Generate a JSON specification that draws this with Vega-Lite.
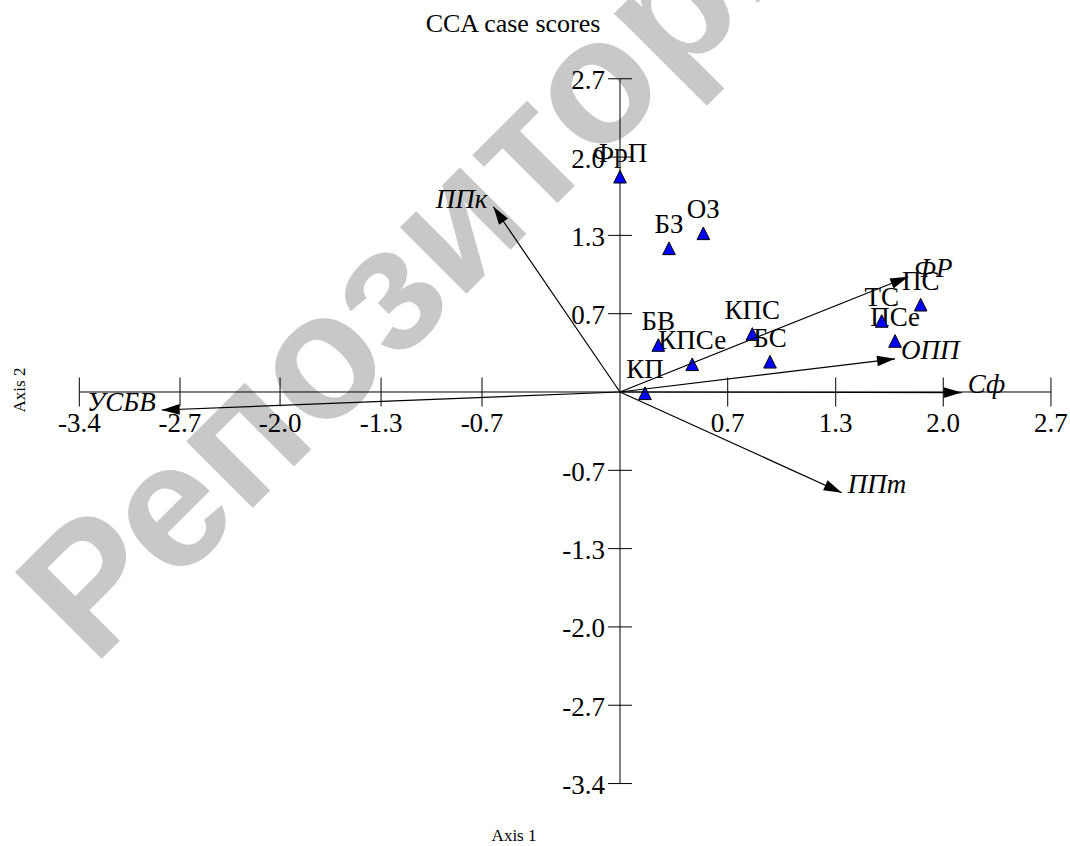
{
  "$schema": "https://vega.github.io/schema/vega-lite/v6.json",
  "autosize": "none",
  "width": 1070,
  "height": 846,
  "padding": 0,
  "background": "white",
  "config": {"view": {"stroke": null}},
  "title": {"text": "CCA case scores", "font": "Liberation Serif, Times New Roman, serif", "fontSize": 26, "fontWeight": "normal", "color": "black", "frame": "group", "anchor": "middle", "baseline": "alphabetic", "offset": -25, "dy": 33, "dx": -22},
  "datasets": {
    "sites": [
      {"name": "ФрП", "x": 0.0, "y": 1.864},
      {"name": "БЗ", "x": 0.308, "y": 1.244},
      {"name": "ОЗ", "x": 0.524, "y": 1.374},
      {"name": "БВ", "x": 0.241, "y": 0.407},
      {"name": "КПСе", "x": 0.454, "y": 0.240},
      {"name": "КП", "x": 0.157, "y": -0.011},
      {"name": "КПС", "x": 0.832, "y": 0.502},
      {"name": "БС", "x": 0.943, "y": 0.262},
      {"name": "ТС", "x": 1.645, "y": 0.615},
      {"name": "ПС", "x": 1.890, "y": 0.756},
      {"name": "ПСе", "x": 1.729, "y": 0.442}
    ],
    "vectors": [
      {"name": "ППк", "x": -0.796, "y": 1.604},
      {"name": "УСБВ", "x": -2.881, "y": -0.156},
      {"name": "Сф", "x": 2.148, "y": -0.005},
      {"name": "ФР", "x": 1.812, "y": 0.998},
      {"name": "ОПП", "x": 1.729, "y": 0.287},
      {"name": "ППт", "x": 1.394, "y": -0.872}
    ],
    "xticks": [
      {"x": -3.399, "label": "-3.4"},
      {"x": -2.766, "label": "-2.7"},
      {"x": -2.137, "label": "-2.0"},
      {"x": -1.502, "label": "-1.3"},
      {"x": -0.8675, "label": "-0.7"},
      {"x": 0.677, "label": "0.7"},
      {"x": 1.356, "label": "1.3"},
      {"x": 2.032, "label": "2.0"},
      {"x": 2.709, "label": "2.7"}
    ],
    "yticks": [
      {"y": 2.712, "label": "2.7"},
      {"y": 2.034, "label": "2.0"},
      {"y": 1.356, "label": "1.3"},
      {"y": 0.678, "label": "0.7"},
      {"y": -0.678, "label": "-0.7"},
      {"y": -1.356, "label": "-1.3"},
      {"y": -2.034, "label": "-2.0"},
      {"y": -2.712, "label": "-2.7"},
      {"y": -3.39, "label": "-3.4"}
    ],
    "watermark": [{"text": "Репозиторий"}],
    "axistitles": [{"t1": "Axis 1", "t2": "Axis 2"}]
  },
  "layer": [
    {
      "data": {"name": "watermark"},
      "mark": {"type": "text", "font": "Liberation Sans, Arial, sans-serif", "fontSize": 178, "fontWeight": "bold", "angle": -45, "align": "center", "baseline": "middle", "color": "#c8c8c8", "clip": true},
      "encoding": {
        "x": {"datum": -1.0, "type": "quantitative", "scale": {"domain": [-3.8975, 2.8288], "nice": false, "zero": false}, "axis": null},
        "y": {"datum": 1.45, "type": "quantitative", "scale": {"domain": [-3.9307, 3.3939], "nice": false, "zero": false}, "axis": null},
        "text": {"field": "text"}
      }
    },
    {
      "data": {"name": "xticks"},
      "mark": {"type": "rule", "color": "black", "strokeWidth": 1},
      "encoding": {
        "x": {"aggregate": "min", "field": "x", "type": "quantitative", "scale": {"domain": [-3.8975, 2.8288], "nice": false, "zero": false}, "axis": null},
        "x2": {"aggregate": "max", "field": "x"},
        "y": {"datum": 0, "type": "quantitative", "scale": {"domain": [-3.9307, 3.3939], "nice": false, "zero": false}, "axis": null}
      }
    },
    {
      "data": {"name": "yticks"},
      "mark": {"type": "rule", "color": "black", "strokeWidth": 1},
      "encoding": {
        "y": {"aggregate": "min", "field": "y", "type": "quantitative", "scale": {"domain": [-3.9307, 3.3939], "nice": false, "zero": false}, "axis": null},
        "y2": {"aggregate": "max", "field": "y"},
        "x": {"datum": 0, "type": "quantitative", "scale": {"domain": [-3.8975, 2.8288], "nice": false, "zero": false}, "axis": null}
      }
    },
    {
      "data": {"name": "xticks"},
      "mark": {"type": "tick", "orient": "vertical", "color": "black", "size": 29, "thickness": 1, "opacity": 1},
      "encoding": {
        "x": {"field": "x", "type": "quantitative", "scale": {"domain": [-3.8975, 2.8288], "nice": false, "zero": false}, "axis": null},
        "y": {"datum": 0, "type": "quantitative", "scale": {"domain": [-3.9307, 3.3939], "nice": false, "zero": false}, "axis": null}
      }
    },
    {
      "data": {"name": "yticks"},
      "mark": {"type": "tick", "orient": "horizontal", "color": "black", "size": 24, "thickness": 1, "opacity": 1},
      "encoding": {
        "y": {"field": "y", "type": "quantitative", "scale": {"domain": [-3.9307, 3.3939], "nice": false, "zero": false}, "axis": null},
        "x": {"datum": 0, "type": "quantitative", "scale": {"domain": [-3.8975, 2.8288], "nice": false, "zero": false}, "axis": null}
      }
    },
    {
      "data": {"name": "xticks"},
      "mark": {"type": "text", "font": "Liberation Serif, Times New Roman, serif", "fontSize": 27, "align": "center", "baseline": "alphabetic", "dy": 40, "color": "black"},
      "encoding": {
        "x": {"field": "x", "type": "quantitative", "scale": {"domain": [-3.8975, 2.8288], "nice": false, "zero": false}, "axis": null},
        "y": {"datum": 0, "type": "quantitative", "scale": {"domain": [-3.9307, 3.3939], "nice": false, "zero": false}, "axis": null},
        "text": {"field": "label"}
      }
    },
    {
      "data": {"name": "yticks"},
      "mark": {"type": "text", "font": "Liberation Serif, Times New Roman, serif", "fontSize": 27, "align": "right", "baseline": "alphabetic", "dx": -15, "dy": 10.5, "color": "black"},
      "encoding": {
        "y": {"field": "y", "type": "quantitative", "scale": {"domain": [-3.9307, 3.3939], "nice": false, "zero": false}, "axis": null},
        "x": {"datum": 0, "type": "quantitative", "scale": {"domain": [-3.8975, 2.8288], "nice": false, "zero": false}, "axis": null},
        "text": {"field": "label"}
      }
    },
    {
      "data": {"name": "axistitles"},
      "mark": {"type": "text", "font": "Liberation Serif, Times New Roman, serif", "fontSize": 17, "align": "center", "baseline": "middle", "color": "black"},
      "encoding": {
        "x": {"datum": -0.666, "type": "quantitative", "scale": {"domain": [-3.8975, 2.8288], "nice": false, "zero": false}, "axis": null},
        "y": {"datum": -3.844, "type": "quantitative", "scale": {"domain": [-3.9307, 3.3939], "nice": false, "zero": false}, "axis": null},
        "text": {"field": "t1"}
      }
    },
    {
      "data": {"name": "axistitles"},
      "mark": {"type": "text", "font": "Liberation Serif, Times New Roman, serif", "fontSize": 17, "align": "center", "baseline": "middle", "angle": -90, "color": "black"},
      "encoding": {
        "x": {"datum": -3.772, "type": "quantitative", "scale": {"domain": [-3.8975, 2.8288], "nice": false, "zero": false}, "axis": null},
        "y": {"datum": 0.017, "type": "quantitative", "scale": {"domain": [-3.9307, 3.3939], "nice": false, "zero": false}, "axis": null},
        "text": {"field": "t2"}
      }
    },
    {
      "data": {"name": "sites"},
      "mark": {"type": "text", "font": "Liberation Serif, Times New Roman, serif", "fontSize": 27, "align": "center", "baseline": "alphabetic", "dy": -15, "color": "black"},
      "encoding": {
        "x": {"field": "x", "type": "quantitative", "scale": {"domain": [-3.8975, 2.8288], "nice": false, "zero": false}, "axis": null},
        "y": {"field": "y", "type": "quantitative", "scale": {"domain": [-3.9307, 3.3939], "nice": false, "zero": false}, "axis": null},
        "text": {"field": "name"}
      }
    },
    {
      "data": {"name": "sites"},
      "mark": {"type": "point", "shape": "M0,-1L1,1L-1,1Z", "size": 160, "filled": true, "fill": "#0000ff", "stroke": "black", "strokeWidth": 1, "opacity": 1},
      "encoding": {
        "x": {"field": "x", "type": "quantitative", "scale": {"domain": [-3.8975, 2.8288], "nice": false, "zero": false}, "axis": null},
        "y": {"field": "y", "type": "quantitative", "scale": {"domain": [-3.9307, 3.3939], "nice": false, "zero": false}, "axis": null}
      }
    },
    {
      "data": {"name": "vectors"},
      "mark": {"type": "rule", "color": "black", "strokeWidth": 1.2},
      "encoding": {
        "x": {"field": "x", "type": "quantitative", "scale": {"domain": [-3.8975, 2.8288], "nice": false, "zero": false}, "axis": null},
        "y": {"field": "y", "type": "quantitative", "scale": {"domain": [-3.9307, 3.3939], "nice": false, "zero": false}, "axis": null},
        "x2": {"datum": 0},
        "y2": {"datum": 0}
      }
    },
    {
      "data": {"name": "vectors"},
      "mark": {"type": "point", "shape": "M0,0L-1,-0.3L-1,0.3Z", "size": 1296, "filled": true, "fill": "black", "strokeWidth": 0, "opacity": 1,
               "angle": {"expr": "atan2(scale('y', datum.y) - scale('y', 0), scale('x', datum.x) - scale('x', 0)) * 180 / PI"}},
      "encoding": {
        "x": {"field": "x", "type": "quantitative", "scale": {"domain": [-3.8975, 2.8288], "nice": false, "zero": false}, "axis": null},
        "y": {"field": "y", "type": "quantitative", "scale": {"domain": [-3.9307, 3.3939], "nice": false, "zero": false}, "axis": null}
      }
    },
    {
      "data": {"name": "vectors"},
      "transform": [{"filter": "datum.x > 0"}],
      "mark": {"type": "text", "font": "Liberation Serif, Times New Roman, serif", "fontSize": 27, "fontStyle": "italic", "align": "left", "baseline": "alphabetic", "dx": 6, "color": "black"},
      "encoding": {
        "x": {"field": "x", "type": "quantitative", "scale": {"domain": [-3.8975, 2.8288], "nice": false, "zero": false}, "axis": null},
        "y": {"field": "y", "type": "quantitative", "scale": {"domain": [-3.9307, 3.3939], "nice": false, "zero": false}, "axis": null},
        "text": {"field": "name"}
      }
    },
    {
      "data": {"name": "vectors"},
      "transform": [{"filter": "datum.x < 0"}],
      "mark": {"type": "text", "font": "Liberation Serif, Times New Roman, serif", "fontSize": 27, "fontStyle": "italic", "align": "right", "baseline": "alphabetic", "dx": -6, "dy": 1, "color": "black"},
      "encoding": {
        "x": {"field": "x", "type": "quantitative", "scale": {"domain": [-3.8975, 2.8288], "nice": false, "zero": false}, "axis": null},
        "y": {"field": "y", "type": "quantitative", "scale": {"domain": [-3.9307, 3.3939], "nice": false, "zero": false}, "axis": null},
        "text": {"field": "name"}
      }
    }
  ]
}
